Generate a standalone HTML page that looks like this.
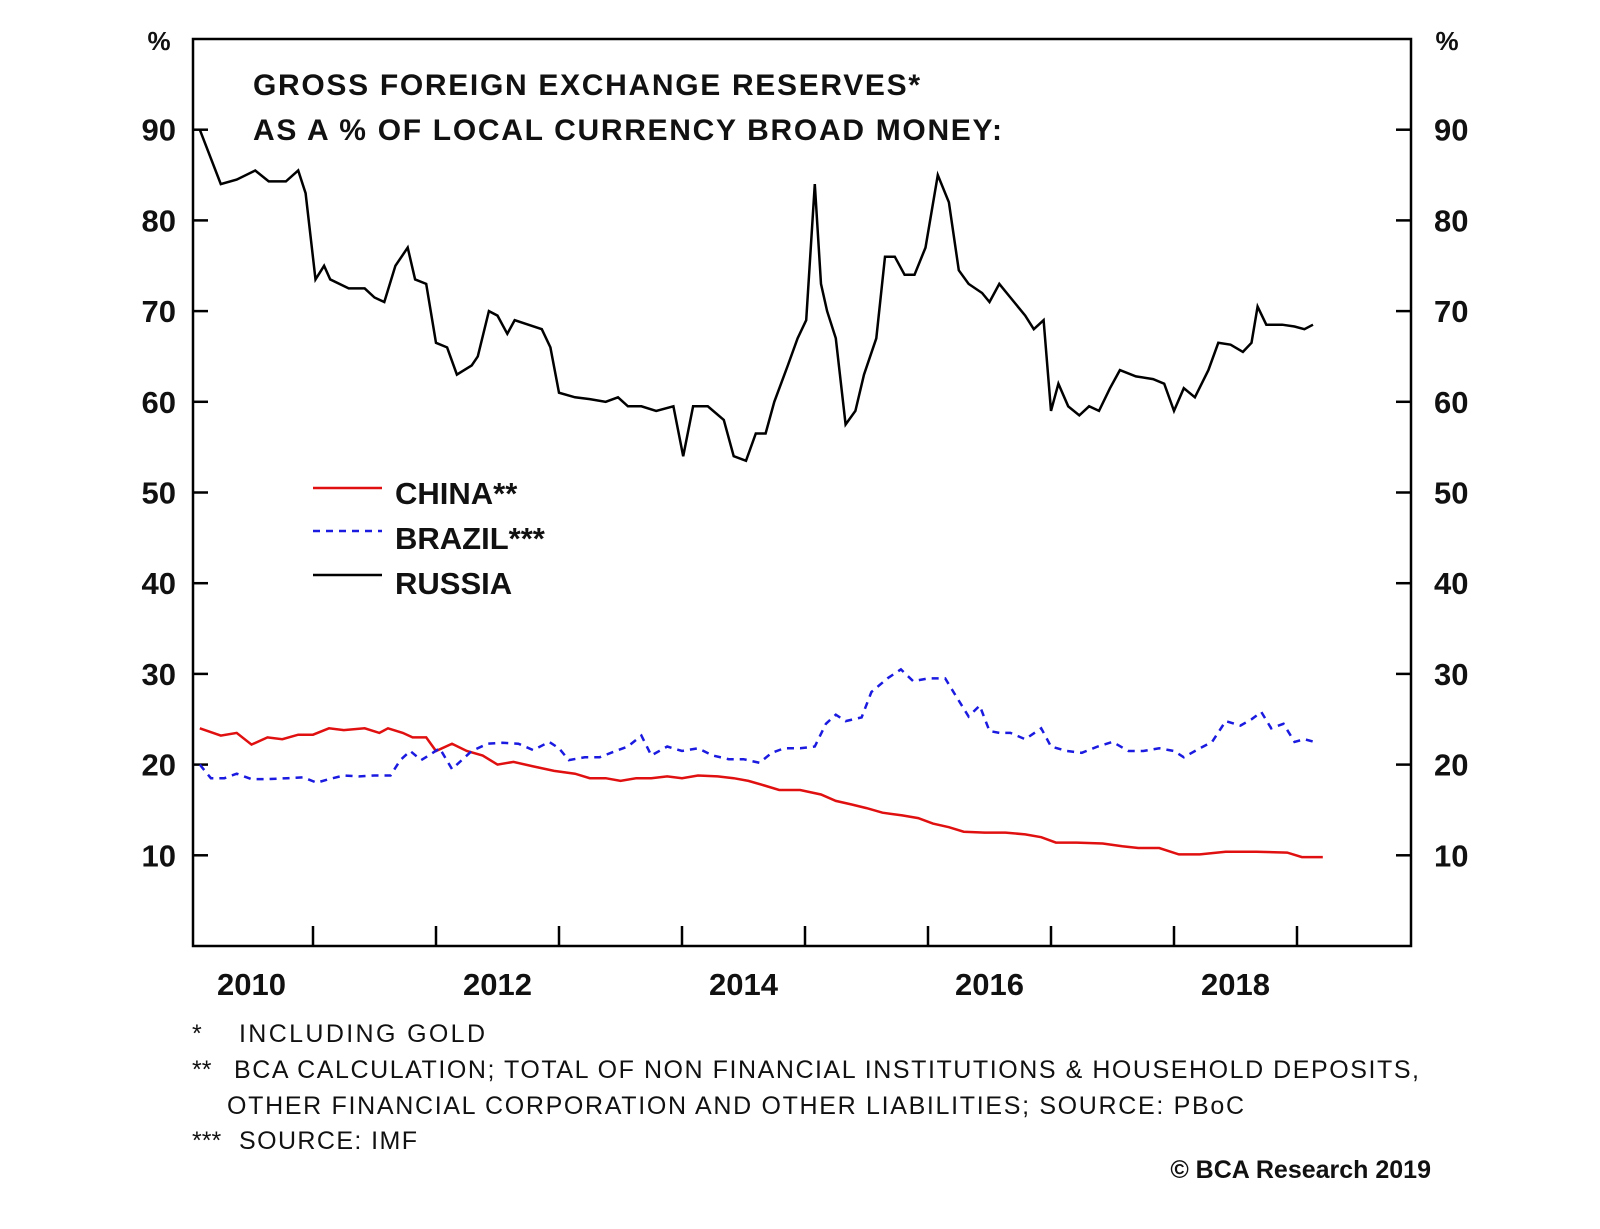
<!DOCTYPE html>
<html><head><meta charset="utf-8"><style>
html,body{margin:0;padding:0;background:#fff}
svg{display:block}
text{font-family:"Liberation Sans",Arial,sans-serif;fill:#111}
</style></head><body>
<svg id="chart" width="1600" height="1229" viewBox="0 0 1600 1229" xmlns="http://www.w3.org/2000/svg">
<g id="axes"></g>
<g id="series"></g>
<text x="253" y="95" font-size="30" font-weight="bold" textLength="667">GROSS FOREIGN EXCHANGE RESERVES*</text>
<text x="253" y="140" font-size="30" font-weight="bold" textLength="749">AS A % OF LOCAL CURRENCY BROAD MONEY:</text>
<text x="159" y="50" font-size="26" font-weight="bold" text-anchor="middle">%</text>
<text x="1447" y="50" font-size="26" font-weight="bold" text-anchor="middle">%</text>
<g>
<g><line x1="313" y1="488" x2="382" y2="488" stroke="#e01010" stroke-width="2.5"/><text x="395" y="504" font-size="31" font-weight="bold">CHINA**</text></g>
<g><line x1="313" y1="531" x2="382" y2="531" stroke="#1a1ae0" stroke-width="2.5" stroke-dasharray="7,6"/><text x="395" y="549" font-size="31" font-weight="bold">BRAZIL***</text></g>
<g><line x1="313" y1="575" x2="382" y2="575" stroke="#000" stroke-width="2.5"/><text x="395" y="594" font-size="31" font-weight="bold">RUSSIA</text></g>
</g>
<g font-size="25">
<text x="192" y="1042">*</text>
<text x="239" y="1042" textLength="246">INCLUDING GOLD</text>
<text x="192" y="1078">**</text>
<text x="234" y="1078" textLength="1185">BCA CALCULATION; TOTAL OF NON FINANCIAL INSTITUTIONS &amp; HOUSEHOLD DEPOSITS,</text>
<text x="227" y="1114" textLength="1017">OTHER FINANCIAL CORPORATION AND OTHER LIABILITIES; SOURCE: PBoC</text>
<text x="192" y="1149">***</text>
<text x="239" y="1149" textLength="178">SOURCE: IMF</text>
</g>
<text x="1431" y="1178" font-size="25" text-anchor="end" font-weight="bold">© BCA Research 2019</text>
</svg>
<script>
const yTicks=[10,20,30,40,50,60,70,80,90];
const xTickYears=[2011,2012,2013,2014,2015,2016,2017,2018,2019];
const xLabels=["2010","2012","2014","2016","2018"];
const xLabelYears=[2010.5,2012.5,2014.5,2016.5,2018.5];
const russiaDates=[2010.08,2010.25,2010.38,2010.53,2010.64,2010.78,2010.88,2010.94,2011.02,2011.09,2011.14,2011.29,2011.42,2011.5,2011.58,2011.67,2011.77,2011.83,2011.92,2012.0,2012.09,2012.17,2012.29,2012.34,2012.43,2012.5,2012.58,2012.64,2012.75,2012.86,2012.93,2013.0,2013.13,2013.25,2013.38,2013.48,2013.56,2013.67,2013.79,2013.93,2014.01,2014.09,2014.21,2014.34,2014.42,2014.52,2014.6,2014.68,2014.75,2014.86,2014.94,2015.01,2015.08,2015.13,2015.18,2015.25,2015.33,2015.41,2015.48,2015.58,2015.65,2015.73,2015.81,2015.89,2015.98,2016.08,2016.17,2016.25,2016.33,2016.44,2016.5,2016.58,2016.67,2016.79,2016.86,2016.94,2017.0,2017.06,2017.14,2017.23,2017.31,2017.39,2017.48,2017.56,2017.69,2017.83,2017.92,2018.0,2018.08,2018.17,2018.28,2018.36,2018.46,2018.56,2018.63,2018.68,2018.75,2018.88,2018.98,2019.06,2019.13];
const russiaValues=[90,84,84.5,85.5,84.3,84.3,85.5,83,73.5,75,73.5,72.5,72.5,71.5,71,75,77,73.5,73,66.5,66,63,64,65,70,69.5,67.5,69,68.5,68,66,61,60.5,60.3,60,60.5,59.5,59.5,59,59.5,54,59.5,59.5,58,54,53.5,56.5,56.5,60,64,67,69,84,73,70,67,57.5,59,63,67,76,76,74,74,77,85,82,74.5,73,72,71,73,71.5,69.5,68,69,59,62,59.5,58.5,59.5,59,61.5,63.5,62.8,62.5,62,59,61.5,60.5,63.5,66.5,66.3,65.5,66.5,70.5,68.5,68.5,68.3,68,68.5];
const chinaDates=[2010.08,2010.25,2010.38,2010.5,2010.63,2010.75,2010.88,2011.0,2011.13,2011.25,2011.42,2011.54,2011.61,2011.73,2011.81,2011.92,2012.0,2012.13,2012.25,2012.38,2012.5,2012.63,2012.79,2012.96,2013.13,2013.25,2013.38,2013.5,2013.63,2013.75,2013.88,2014.0,2014.13,2014.29,2014.42,2014.54,2014.67,2014.79,2014.96,2015.13,2015.25,2015.38,2015.5,2015.63,2015.79,2015.92,2016.04,2016.17,2016.29,2016.46,2016.63,2016.79,2016.92,2017.04,2017.21,2017.42,2017.58,2017.71,2017.88,2018.04,2018.21,2018.42,2018.67,2018.92,2019.04,2019.21];
const chinaValues=[24,23.2,23.5,22.2,23,22.8,23.3,23.3,24,23.8,24,23.5,24,23.5,23,23,21.5,22.3,21.5,21,20,20.3,19.8,19.3,19,18.5,18.5,18.2,18.5,18.5,18.7,18.5,18.8,18.7,18.5,18.2,17.7,17.2,17.2,16.7,16,15.6,15.2,14.7,14.4,14.1,13.5,13.1,12.6,12.5,12.5,12.3,12,11.4,11.4,11.3,11,10.8,10.8,10.1,10.1,10.4,10.4,10.3,9.8,9.8];
const brazilDates=[2010.08,2010.17,2010.28,2010.38,2010.5,2010.64,2010.79,2010.92,2011.03,2011.13,2011.25,2011.38,2011.5,2011.63,2011.71,2011.79,2011.88,2011.94,2012.03,2012.13,2012.21,2012.29,2012.42,2012.54,2012.67,2012.79,2012.92,2013.0,2013.08,2013.21,2013.33,2013.46,2013.56,2013.67,2013.75,2013.88,2014.0,2014.13,2014.25,2014.38,2014.5,2014.63,2014.73,2014.83,2014.96,2015.08,2015.17,2015.25,2015.33,2015.46,2015.54,2015.67,2015.78,2015.88,2016.0,2016.14,2016.23,2016.33,2016.42,2016.5,2016.58,2016.67,2016.79,2016.92,2017.0,2017.13,2017.25,2017.38,2017.5,2017.63,2017.75,2017.88,2018.0,2018.08,2018.21,2018.31,2018.42,2018.54,2018.63,2018.71,2018.79,2018.89,2018.98,2019.06,2019.14];
const brazilValues=[20,18.5,18.5,19,18.4,18.4,18.5,18.6,18,18.4,18.8,18.7,18.8,18.8,20.5,21.5,20.5,21,21.8,19.5,20.5,21.5,22.3,22.4,22.3,21.6,22.5,21.8,20.5,20.8,20.8,21.5,22,23.2,21,22,21.5,21.8,21,20.6,20.6,20.2,21.3,21.8,21.8,22,24.5,25.5,24.8,25.2,28,29.5,30.5,29.2,29.5,29.5,27.5,25.3,26.5,23.7,23.5,23.5,22.8,24,22,21.5,21.3,22,22.5,21.5,21.5,21.8,21.5,20.8,21.8,22.5,24.8,24.3,25,25.8,24,24.5,22.5,22.8,22.5];

const NS="http://www.w3.org/2000/svg";
const L=193,R=1411,T=39,B=946;
function xs(yr){return 313+(yr-2011)*123;}
function ys(v){return 946-v*9.07;}
function mk(tag,attrs,parent){const e=document.createElementNS(NS,tag);for(const k in attrs)e.setAttribute(k,attrs[k]);parent.appendChild(e);return e;}
const ax=document.getElementById('axes');
const frame=mk('rect',{x:L,y:T,width:R-L,height:B-T,fill:'none',stroke:'#000','stroke-width':2.5},ax);


yTicks.forEach(v=>{
  const y=ys(v);
  const t1=mk('line',{x1:L,x2:L+15,y1:y,y2:y,stroke:'#000','stroke-width':2.5},ax);
  
  
  const t2=mk('line',{x1:R-15,x2:R,y1:y,y2:y,stroke:'#000','stroke-width':2.5},ax);
  
  
  const a=mk('text',{x:176,y:y+11,'font-size':31,'font-weight':'bold','text-anchor':'end'},ax);a.textContent=v;
  
  
  const b=mk('text',{x:1434,y:y+11,'font-size':31,'font-weight':'bold'},ax);b.textContent=v;
  
  
});
xTickYears.forEach(yr=>{
  const x=xs(yr);
  const t=mk('line',{x1:x,x2:x,y1:B,y2:B-20,stroke:'#000','stroke-width':2.5},ax);
  
  
});
xLabels.forEach((s,i)=>{
  const t=mk('text',{x:xs(xLabelYears[i]),y:995,'font-size':31,'font-weight':'bold','text-anchor':'middle'},ax);t.textContent=s;
  
  
});
const sg=document.getElementById('series');
function line(d,v,color,dash,name){
  const p=d.map((yr,i)=>(i?'L':'M')+xs(yr).toFixed(1)+','+ys(v[i]).toFixed(1)).join('');
  const e=mk('path',{d:p,fill:'none',stroke:color,'stroke-width':2.5,'stroke-linejoin':'miter'},sg);
  if(dash)e.setAttribute('stroke-dasharray',dash);
  
  
}
line(chinaDates,chinaValues,'#e01010',null,'china-line');
line(brazilDates,brazilValues,'#1a1ae0','7,6','brazil-line');
line(russiaDates,russiaValues,'#000',null,'russia-line');
</script>
</body></html>
